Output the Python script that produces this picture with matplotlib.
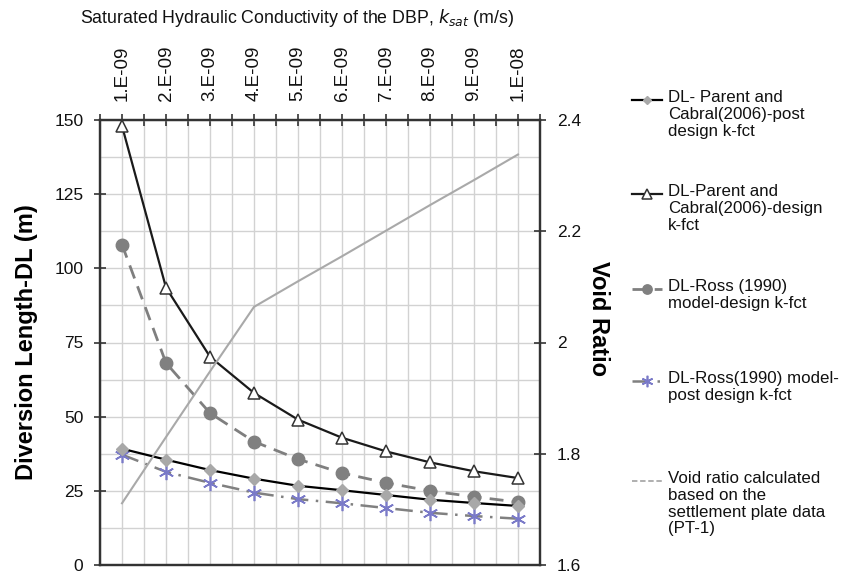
import numpy as np
import matplotlib.pyplot as plt
from matplotlib.lines import Line2D

plt.rcParams['font.family'] = ['Liberation Sans', 'DejaVu Sans']
plt.rcParams['text.color'] = '#111111'

# values
k_labels = ["1.E-09", "2.E-09", "3.E-09", "4.E-09", "5.E-09",
            "6.E-09", "7.E-09", "8.E-09", "9.E-09", "1.E-08"]
dl_parent_post = [39.2, 35.5, 32.0, 29.1, 26.7, 25.2, 23.6, 22.0, 20.9, 19.9]
dl_parent_design = [148.0, 93.5, 70.2, 58.0, 49.0, 42.9, 38.3, 34.6, 31.6, 29.3]
dl_ross_design = [108.0, 68.1, 51.2, 41.6, 35.7, 31.0, 27.7, 25.0, 23.0, 21.2]
dl_ross_post = [37.2, 31.4, 27.7, 24.4, 22.2, 20.8, 19.2, 17.6, 16.5, 15.6]
void_ratio = [1.711, 1.830, 1.948, 2.064, 2.110, 2.155, 2.201, 2.247, 2.292, 2.338]

legend_labels = [
    "DL- Parent and\nCabral(2006)-post\ndesign k-fct",
    "DL-Parent and\nCabral(2006)-design\nk-fct",
    "DL-Ross (1990)\nmodel-design k-fct",
    "DL-Ross(1990) model-\npost design k-fct",
    "Void ratio calculated\nbased on the\nsettlement plate data\n(PT-1)",
]

W, H = 859, 576
fig = plt.figure(figsize=(W / 100, H / 100), dpi=100)
ax = fig.add_axes([100 / W, 1 - 565 / H, 440 / W, 445 / H])
x = np.arange(len(k_labels))

# series styles (shared by plot and legend)
styles = [
    dict(color='black', lw=1.6, ls='-', marker='D', ms=6, mfc='#a8a8a8', mec='#a8a8a8'),
    dict(color='#1a1a1a', lw=1.6, ls='-', marker='^', ms=9, mfc='white', mec='#333333', mew=1.1),
    dict(color='#7f7f7f', lw=2.0, ls=(0, (5, 3)), marker='o', ms=9, mfc='#808080', mec='#808080'),
    dict(color='#808080', lw=1.8, ls=(0, (7, 3, 1, 3)), marker=(6, 2, 0), ms=11, mfc='none',
         mec='#7a7ac8', mew=1.2),
]

ax.plot(x, dl_parent_post, zorder=4, **styles[0])
ax.plot(x, dl_parent_design, zorder=4, **styles[1])
ax.plot(x, dl_ross_design, zorder=3, **styles[2])
ax.plot(x, dl_ross_post, zorder=3, **styles[3])

ax.set_xlim(-0.5, 9.5)
ax.set_ylim(0, 150)
ax.set_xticks(x)
ax.set_xticks(np.arange(-0.5, 9.6, 0.5), minor=True)
ax.set_xticklabels(k_labels, rotation=90)
ax.set_yticks(np.arange(0, 151, 25))
ax.set_yticks(np.arange(0, 151, 12.5), minor=True)
ax.xaxis.tick_top()
ax.tick_params(axis='x', which='both', direction='inout', length=8, width=1.2,
               colors='#333333', labelcolor='#111111', labelsize=13.5, pad=10,
               top=True, bottom=False)
ax.tick_params(axis='y', which='major', direction='inout', length=8, width=1.2,
               colors='#333333', labelcolor='#111111', labelsize=12.5, pad=8)
ax.tick_params(axis='y', which='minor', length=0)
ax.grid(True, which='both', color='#d2d2d2', lw=1.0)
ax.set_axisbelow(True)
ax.set_ylabel("Diversion Length-DL (m)", fontsize=17, fontweight='bold')
ax.yaxis.set_label_coords(-0.141, 0.5)

ax2 = ax.twinx()
ax2.plot(x, void_ratio, color='#a9a9a9', lw=1.5, zorder=2)
ax2.set_ylim(1.6, 2.4)
ax2.set_yticks([1.6, 1.8, 2.0, 2.2, 2.4])
ax2.set_yticklabels(["1.6", "1.8", "2", "2.2", "2.4"])
ax2.tick_params(axis='y', direction='inout', length=8, width=1.2, colors='#333333',
                labelcolor='#111111', labelsize=12.5, pad=8)
ax2.set_ylabel("Void Ratio", fontsize=17, fontweight='bold', rotation=270)
ax2.yaxis.set_label_coords(1.16, 0.555)

for a in (ax, ax2):
    for sp in a.spines.values():
        sp.set_linewidth(1.6)
        sp.set_color('#333333')

fig.text(297 / W, 1 - 18 / H,
         "Saturated Hydraulic Conductivity of the DBP, $k_{sat}$ (m/s)",
         ha='center', va='center', fontsize=12.8)

# legend drawn entry by entry to keep the uneven spacing of the original
legend_styles = styles + [dict(color='#a9a9a9', lw=1.3, ls=(0, (3, 1.5)), marker=None)]
legend_y = [100, 194, 289, 381, 481]
for st, lab, yy in zip(legend_styles, legend_labels, legend_y):
    st = dict(st)
    st['ms'] = st.get('ms', 0) * 0.75 if st.get('marker') is not None else 0
    fig.add_artist(Line2D([632 / W, 647 / W, 662 / W], [1 - yy / H] * 3,
                          transform=fig.transFigure, markevery=[1], **st))
    fig.text(668 / W, 1 - (yy - 10) / H, lab, ha='left', va='top',
             fontsize=12.2, linespacing=1.15)

fig.savefig("out.png", dpi=100)
